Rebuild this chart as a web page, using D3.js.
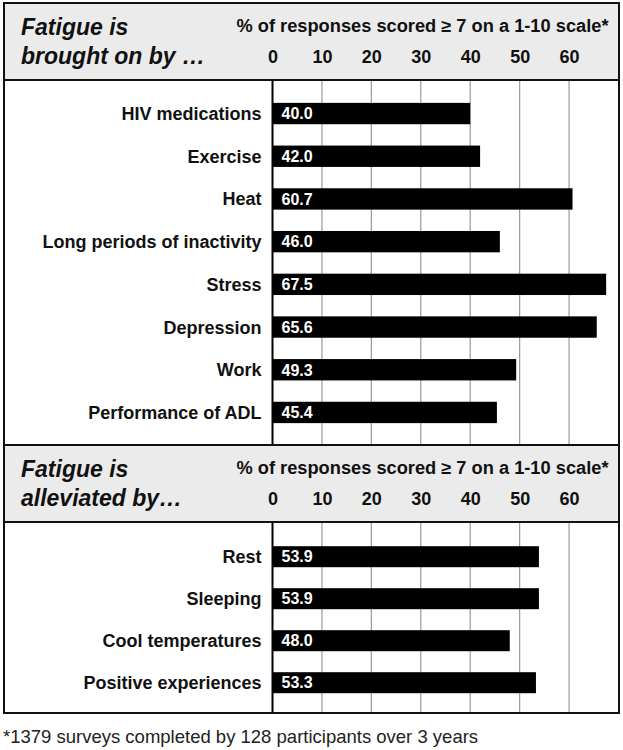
<!DOCTYPE html>
<html><head><meta charset="utf-8">
<script src="https://cdn.jsdelivr.net/npm/d3@7"></script>
<style>body{margin:0;background:#fff}svg{display:block}</style>
</head><body><svg id="c" width="623" height="750"></svg>
<script>
const causeCats = ["HIV medications","Exercise","Heat","Long periods of inactivity","Stress","Depression","Work","Performance of ADL"];
const causeVals = [40.0,42.0,60.7,46.0,67.5,65.6,49.3,45.4];
const reliefCats = ["Rest","Sleeping","Cool temperatures","Positive experiences"];
const reliefVals = [53.9,53.9,48.0,53.3];
const tickVals = [0,10,20,30,40,50,60];
const axisTitle = "% of responses scored \u2265 7 on a 1-10 scale*";
const footnote = "*1379 surveys completed by 128 participants over 3 years";

const svg = d3.select("#c");
const font = "'Liberation Sans', Arial, sans-serif";
const x = d3.scaleLinear().domain([0,70]).range([272.5,618.5]);
const L = 4, R = 619;

function section(top, hdrBottom, bodyBottom, bandTop, bandBottom, title1, title2, cats, vals){
  svg.append("rect").attr("x",L).attr("y",top).attr("width",R-L).attr("height",hdrBottom-top).attr("fill","#ebebeb");
  svg.append("text").attr("x",21).attr("y",top+32).attr("font-family",font).attr("font-size",23)
    .attr("font-weight","bold").attr("font-style","italic").attr("fill","#111").text(title1);
  svg.append("text").attr("x",21).attr("y",top+61).attr("font-family",font).attr("font-size",23)
    .attr("font-weight","bold").attr("font-style","italic").attr("fill","#111").text(title2);
  svg.append("text").attr("x",x(0)-36).attr("y",top+29).attr("font-family",font).attr("font-size",17.5)
    .attr("font-weight","bold").attr("fill","#111").attr("textLength",372).attr("lengthAdjust","spacingAndGlyphs").text(axisTitle);
  const ax = svg.append("g").attr("transform",`translate(0,${top+60})`)
    .call(d3.axisTop(x).tickValues(tickVals).tickSize(0).tickPadding(0));
  ax.select(".domain").remove();
  ax.selectAll("text").attr("font-family",font).attr("font-size",18).attr("font-weight","bold").attr("fill","#111")
    .attr("dy","0");
  const y = d3.scaleBand().domain(cats).range([bandTop,bandBottom]).paddingInner(0.5).paddingOuter(0.25);
  svg.append("g").selectAll("line").data(tickVals.slice(1)).join("line")
    .attr("x1",d=>x(d)).attr("x2",d=>x(d)).attr("y1",hdrBottom).attr("y2",bodyBottom)
    .attr("stroke","#9a9a9a").attr("stroke-width",1.2);
  svg.append("g").selectAll("rect").data(cats).join("rect")
    .attr("x",x(0)).attr("y",d=>y(d)).attr("width",(d,i)=>x(vals[i])-x(0)).attr("height",y.bandwidth()).attr("fill","#000");
  svg.append("line").attr("x1",x(0)).attr("x2",x(0)).attr("y1",hdrBottom).attr("y2",bodyBottom).attr("stroke","#000").attr("stroke-width",2);
  svg.append("g").selectAll("text").data(cats).join("text")
    .attr("x",x(0)-11).attr("y",d=>y(d)+y.bandwidth()/2).attr("dy","0.36em").attr("text-anchor","end")
    .attr("font-family",font).attr("font-size",18).attr("font-weight","bold").attr("fill","#111").text(d=>d);
  svg.append("g").selectAll("text").data(cats).join("text")
    .attr("x",x(0)+9).attr("y",d=>y(d)+y.bandwidth()/2).attr("dy","0.36em")
    .attr("font-family",font).attr("font-size",16).attr("font-weight","bold").attr("fill","#fff").text((d,i)=>vals[i].toFixed(1));
  svg.append("line").attr("x1",L).attr("x2",R).attr("y1",hdrBottom).attr("y2",hdrBottom).attr("stroke","#111").attr("stroke-width",2);
}

section(3, 80, 445, 92.2, 433.8, "Fatigue is", "brought on by \u2026", causeCats, causeVals);
section(445, 522, 713, 535.7, 703.7, "Fatigue is", "alleviated by\u2026", reliefCats, reliefVals);

svg.append("rect").attr("x",L).attr("y",3).attr("width",R-L).attr("height",710).attr("fill","none").attr("stroke","#111").attr("stroke-width",2);
svg.append("line").attr("x1",L).attr("x2",R).attr("y1",445).attr("y2",445).attr("stroke","#111").attr("stroke-width",2);
svg.append("text").attr("x",3).attr("y",743).attr("font-family",font).attr("font-size",18.5).attr("fill","#222").text(footnote);
</script></body></html>
